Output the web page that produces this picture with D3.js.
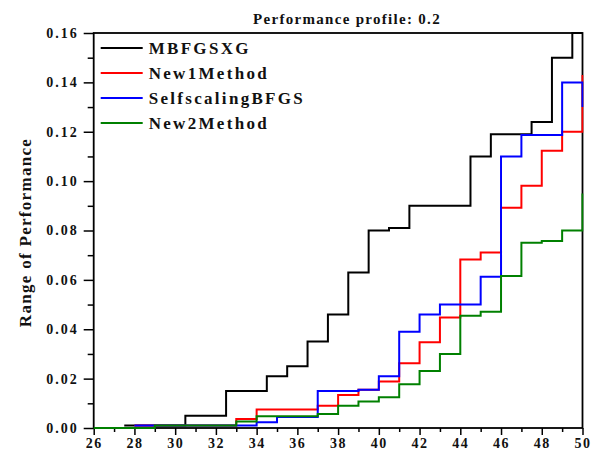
<!DOCTYPE html>
<html>
<head>
<meta charset="utf-8">
<script src="https://cdn.jsdelivr.net/npm/d3@7"></script>
<style>
    body { margin: 0; background: #fff; }
    svg text { font-family: 'Liberation Serif', 'Times New Roman', serif; font-weight: bold; fill: #111; }
</style>
</head>
<body>
<div id="chart"></div>
<script>
const title = 'Performance profile: 0.2';
const yLabel = 'Range of Performance';
const seriesNames = ['MBFGSXG', 'New1Method', 'SelfscalingBFGS', 'New2Method'];
const seriesColors = ['#000000', '#ff0000', '#0000ff', '#008000'];

const xTicks = [26, 28, 30, 32, 34, 36, 38, 40, 42, 44, 46, 48, 50];
const yTicks = [0, 0.02, 0.04, 0.06, 0.08, 0.10, 0.12, 0.14, 0.16];

// step positions and levels
const blackX = [27.5, 30.5, 32.5, 34.5, 35.5, 36.5, 37.5, 38.5, 39.5, 40.5, 41.5, 44.5, 45.5, 47.5, 48.5, 49.5, 50];
const blackY = [0.001, 0.005, 0.015, 0.021, 0.025, 0.035, 0.046, 0.063, 0.080, 0.081, 0.090, 0.110, 0.119, 0.124, 0.150, 0.160, 0.160];

const redX = [28, 33, 34, 37, 38, 39, 40, 41, 42, 43, 44, 45, 46, 47, 48, 49, 50];
const redY = [0.001, 0.0036, 0.0075, 0.009, 0.0134, 0.0155, 0.0188, 0.0262, 0.0347, 0.0448, 0.0683, 0.0711, 0.0892, 0.0981, 0.1123, 0.120, 0.143];

const blueX = [28, 34, 35, 37, 39, 40, 41, 42, 43, 45, 46, 47, 49, 50];
const blueY = [0.001, 0.0023, 0.0045, 0.015, 0.0155, 0.021, 0.039, 0.046, 0.050, 0.0613, 0.110, 0.1187, 0.140, 0.130];

const greenX = [26, 29, 33, 34, 37, 38, 39, 40, 41, 42, 43, 44, 45, 46, 47, 48, 49, 50];
const greenY = [0, 0.001, 0.0026, 0.0048, 0.0057, 0.009, 0.0107, 0.0125, 0.0177, 0.0231, 0.030, 0.0455, 0.0471, 0.0616, 0.075, 0.0757, 0.080, 0.095];

const seriesX = [blackX, redX, blueX, greenX];
const seriesY = [blackY, redY, blueY, greenY];

const W = 595, H = 459;
const margin = { left: 93.7, right: 12.5, top: 33, bottom: 31 };
const width = W - margin.left - margin.right;
const height = H - margin.top - margin.bottom;

const svg = d3.select('#chart')
    .append('svg')
    .attr('width', W)
    .attr('height', H);

const g = svg.append('g')
    .attr('transform', `translate(${margin.left},${margin.top})`);

const x = d3.scaleLinear().domain([26, 50]).range([0, width]);
const y = d3.scaleLinear().domain([0, 0.16]).range([height, 0]);

g.append('clipPath')
    .attr('id', 'plot-clip')
    .append('rect')
    .attr('x', -1).attr('y', -1)
    .attr('width', width + 2).attr('height', height + 2);

// minor ticks
const xMinor = d3.range(27, 50, 2);
const yMinor = d3.range(0.01, 0.16, 0.02);

g.append('g')
    .attr('transform', `translate(0,${height})`)
    .call(d3.axisBottom(x).tickValues(xMinor).tickSize(4).tickFormat(''))
    .call(a => a.select('.domain').remove())
    .selectAll('line').attr('stroke-width', 1.5);

g.append('g')
    .call(d3.axisLeft(y).tickValues(yMinor).tickSize(6).tickFormat(''))
    .call(a => a.select('.domain').remove())
    .selectAll('line').attr('stroke-width', 1.5);

const xAxis = g.append('g')
    .attr('transform', `translate(0,${height})`)
    .call(d3.axisBottom(x).tickValues(xTicks).tickSize(7).tickPadding(3).tickFormat(d3.format('d')));
xAxis.select('.domain').remove();
xAxis.selectAll('line').attr('stroke-width', 1.5);
xAxis.selectAll('text')
    .attr('font-size', 14)
    .attr('letter-spacing', 1.5)
    .attr('fill', '#111');

const yAxis = g.append('g')
    .call(d3.axisLeft(y).tickValues(yTicks).tickSize(10).tickPadding(5).tickFormat(d3.format('.2f')));
yAxis.select('.domain').remove();
yAxis.selectAll('line').attr('stroke-width', 1.5);
yAxis.selectAll('text')
    .attr('font-size', 14)
    .attr('letter-spacing', 2)
    .attr('fill', '#111');

// frame, under the series so the end steps at x = 50 stay visible
g.append('rect')
    .attr('width', width)
    .attr('height', height)
    .attr('fill', 'none')
    .attr('stroke', '#000')
    .attr('stroke-width', 1.8);

const line = d3.line()
    .curve(d3.curveStepAfter)
    .x(d => x(d[0]))
    .y(d => y(d[1]));

seriesNames.forEach((name, i) => {
    const pts = seriesX[i].map((v, j) => [v, seriesY[i][j]]);
    g.append('path')
        .datum(pts)
        .attr('clip-path', 'url(#plot-clip)')
        .attr('fill', 'none')
        .attr('stroke', seriesColors[i])
        .attr('stroke-width', 2)
        .attr('d', line);
});

// legend
const legend = g.append('g').attr('transform', 'translate(7,15)');
seriesNames.forEach((name, i) => {
    const row = legend.append('g').attr('transform', `translate(0,${i * 25})`);
    row.append('line')
        .attr('x1', 0).attr('x2', 42)
        .attr('stroke', seriesColors[i])
        .attr('stroke-width', 2);
    row.append('text')
        .attr('x', 48)
        .attr('y', 6)
        .attr('font-size', 17)
        .attr('letter-spacing', 2.3)
        .text(name);
});

svg.append('text')
    .attr('x', 347)
    .attr('y', 24)
    .attr('text-anchor', 'middle')
    .attr('font-size', 15)
    .attr('letter-spacing', 1.3)
    .text(title);

svg.append('text')
    .attr('transform', `translate(31,${margin.top + height / 2 + 2}) rotate(-90)`)
    .attr('text-anchor', 'middle')
    .attr('font-size', 17)
    .attr('letter-spacing', 1.3)
    .text(yLabel);
</script>
</body>
</html>
